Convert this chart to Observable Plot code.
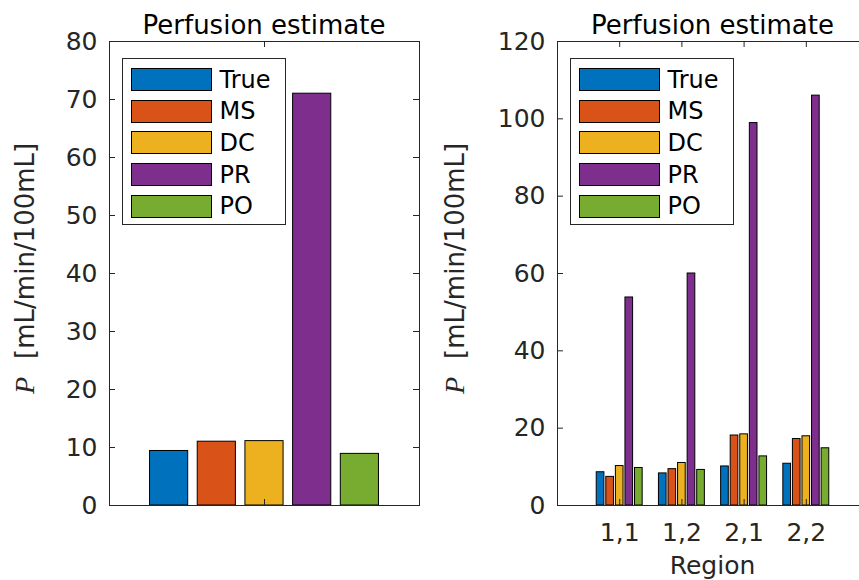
<!DOCTYPE html>
<html><head><meta charset="utf-8">
<script src="https://cdn.jsdelivr.net/npm/d3@7"></script>
<script src="https://cdn.jsdelivr.net/npm/@observablehq/plot@0.6"></script>
<style>
html,body{margin:0;padding:0;background:#fff;overflow:hidden;}
#wrap{position:relative;width:859px;height:580px;overflow:hidden;font-family:"DejaVu Sans",sans-serif;background:#fff;}
.panel{position:absolute;top:0;}
.legend{position:absolute;border:1px solid #262626;background:#fff;box-sizing:border-box;}
.sw{position:absolute;border:1px solid #000;box-sizing:border-box;}
.lt{position:absolute;font-size:24px;color:#000;line-height:1;white-space:nowrap;}
</style></head><body><div id="wrap"></div>
<script>
// ---- data ----
const methods = ["True", "MS", "DC", "PR", "PO"];
const methodColors = ["#0072BD", "#D95319", "#EDB120", "#7E2F8E", "#77AC30"];
const globalEstimate = [9.4, 11.0, 11.1, 71.0, 8.9];
const regions = ["1,1", "1,2", "2,1", "2,2"];
const regionTrue = [8.6, 8.3, 10.1, 10.8];
const regionMS = [7.4, 9.4, 18.1, 17.2];
const regionDC = [10.2, 11.0, 18.4, 17.9];
const regionPR = [53.8, 60.0, 98.9, 106.0];
const regionPO = [9.7, 9.2, 12.7, 14.8];
const leftYTicks = [0, 10, 20, 30, 40, 50, 60, 70, 80];
const rightYTicks = [0, 20, 40, 60, 80, 100, 120];
const titleText = "Perfusion estimate";
const yLabelVar = "P";
const yLabelUnit = "[mL/min/100mL]";
const xLabelText = "Region";

// grouped-bar layout (MATLAB style)
function makeRows(seriesList) {
  const n = seriesList.length;
  const gw = Math.min(0.8, n / (n + 1.5));
  const step = gw / n;
  const bw = 0.8 * step;
  const rows = [];
  seriesList.forEach((vals, m) => vals.forEach((v, g) => {
    const c = (g + 1) - gw / 2 + step * (m + 0.5);
    rows.push({method: methods[m], group: g + 1, value: v, x1: c - bw / 2, x2: c + bw / 2});
  }));
  return rows;
}

const ink = "#262626";
const wrap = document.getElementById("wrap");

function panel(opt) {
  const W = opt.width, H = 580, mt = 41, mb = 75;
  const fw = W - opt.marginLeft - opt.marginRight, fh = H - mt - mb;
  const tickLen = 6;
  const marks = [
    Plot.rectY(opt.rows, {x1: "x1", x2: "x2", y1: 0, y2: "value", fill: "method", stroke: "#000", strokeWidth: 1}),
    Plot.ruleY(opt.yTicks, {insetRight: fw - tickLen, stroke: ink}),
    Plot.ruleY(opt.yTicks, {insetLeft: fw - tickLen, stroke: ink}),
    Plot.ruleX(opt.xTicks, {insetTop: fh - tickLen, stroke: ink}),
    Plot.ruleX(opt.xTicks, {insetBottom: fh - tickLen, stroke: ink}),
    Plot.axisY({ticks: opt.yTicks, tickSize: 0, tickPadding: 12, label: null, fontSize: 25, fill: ink}),
    Plot.frame({stroke: ink})
  ];
  if (opt.xLabels) marks.push(Plot.axisX({ticks: opt.xTicks, tickFormat: d => opt.xLabels[d - 1], tickSize: 0, tickPadding: 18, label: null, fontSize: 25, fill: ink}));
  const plot = Plot.plot({
    width: W, height: H,
    marginLeft: opt.marginLeft, marginRight: opt.marginRight, marginTop: mt, marginBottom: mb,
    style: {fontFamily: "DejaVu Sans", fontSize: "25px", color: ink, background: "transparent", overflow: "visible"},
    x: {type: "linear", domain: opt.xDomain, ...(opt.xLabels ? {} : {axis: null})},
    y: {domain: [0, opt.yMax]},
    color: {domain: methods, range: methodColors},
    marks
  });
  plot.classList.add("panel");
  plot.style.left = opt.left + "px";
  const svg = d3.select(plot);
  svg.append("text")
    .attr("x", opt.marginLeft + fw / 2).attr("y", 34)
    .attr("text-anchor", "middle").attr("font-size", 26).attr("fill", "#000")
    .text(titleText);
  const yl = svg.append("text")
    .attr("transform", "translate(34,394) rotate(-90)")
    .attr("text-anchor", "start")
    .attr("fill", ink).attr("font-size", 26);
  yl.append("tspan").attr("font-family", "Liberation Serif").attr("font-style", "italic").attr("font-size", 28).text(yLabelVar);
  yl.append("tspan").attr("dx", 18).text(yLabelUnit);
  if (opt.xTitle) {
    svg.append("text")
      .attr("x", opt.marginLeft + fw / 2).attr("y", 574)
      .attr("text-anchor", "middle").attr("font-size", 25).attr("fill", ink)
      .text(opt.xTitle);
  }
  wrap.appendChild(plot);

  // legend
  const lg = document.createElement("div");
  lg.className = "legend";
  const lx = opt.left + opt.marginLeft + 12.5;
  Object.assign(lg.style, {left: lx + "px", top: "58px", width: "164px", height: "167px"});
  methods.forEach((m, i) => {
    const top = 9 + i * 31.7;
    const sw = document.createElement("div");
    sw.className = "sw";
    Object.assign(sw.style, {left: "8.5px", top: top + "px", width: "81px", height: "23px", background: methodColors[i]});
    lg.appendChild(sw);
    const t = document.createElement("div");
    t.className = "lt";
    Object.assign(t.style, {left: "97px", top: (top - 0.5) + "px"});
    t.textContent = m;
    lg.appendChild(t);
  });
  wrap.appendChild(lg);
}

panel({
  left: 0, width: 430, marginLeft: 109, marginRight: 11,
  rows: makeRows(globalEstimate.map(v => [v])),
  xDomain: [0.5, 1.5], xTicks: [1], yMax: 80, yTicks: leftYTicks
});
panel({
  left: 430, width: 450, marginLeft: 127, marginRight: 12,
  rows: makeRows([regionTrue, regionMS, regionDC, regionPR, regionPO]),
  xDomain: [0, 5], xTicks: [1, 2, 3, 4], xLabels: regions, xTitle: xLabelText,
  yMax: 120, yTicks: rightYTicks
});
</script></body></html>
